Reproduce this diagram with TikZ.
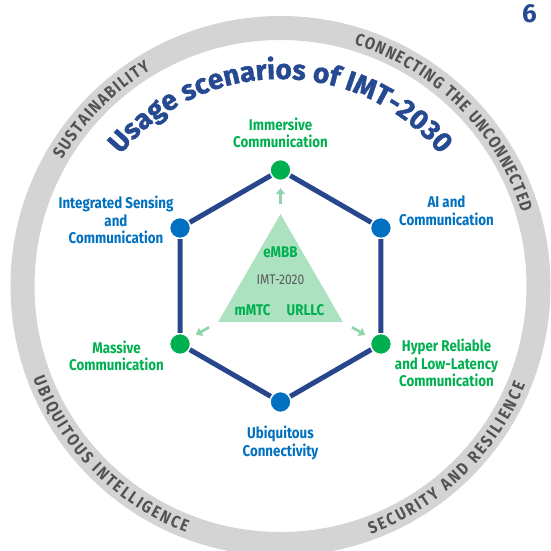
\documentclass[tikz,border=0pt]{standalone}
\usepackage{fontspec}
\setmainfont{Fira Sans}
\newfontfamily\condfont[FakeStretch=0.86]{Fira Sans}
\newfontfamily\titlefont[FakeBold=1.4]{Fira Sans}
\usetikzlibrary{arrows.meta,positioning,shapes.geometric,decorations.text}
\definecolor{hexnavy}   {RGB}{40, 70,140}
\definecolor{titleblue} {RGB}{37, 74,145}
\definecolor{nodeblue}  {RGB}{0 ,112,192}
\definecolor{nodegreen} {RGB}{0 ,176, 80}
\definecolor{mintfill}  {RGB}{172,226,192}
\definecolor{mintarrow} {RGB}{140,214,170}
\definecolor{ringgray}  {RGB}{212,212,212}
\definecolor{ringtext}  {RGB}{82 , 82, 82}
\definecolor{imtgray}   {RGB}{90 , 90, 90}

\begin{document}
\begin{tikzpicture}[
  x=1pt, y=1pt,
  bluept/.style={circle, fill=nodeblue, draw=white, line width=1.5pt, minimum size=21pt, inner sep=0pt},
  greenpt/.style={bluept, fill=nodegreen},
  bluelbl/.style={font=\condfont\bfseries\fontsize{15.5}{17.5}\selectfont, text=nodeblue, align=center},
  greenlbl/.style={bluelbl, text=nodegreen},
  hexline/.style={hexnavy, line width=5pt},
  outarrow/.style={-{Triangle[width=9pt,length=6pt]}, mintarrow, line width=2.6pt, shorten <=10pt, shorten >=7pt},
  ringlbl/.style={decorate, decoration={text along path, text align={fit to path},
    text={|\condfont\bfseries\fontsize{17}{17}\selectfont\color{ringtext}|#1}}}
]
  \useasboundingbox (-280.5,-265) rectangle (269.5,286);

  % Ring
  \draw[ringgray, line width=24pt] (0,0) circle[radius=258];
  \path[ringlbl={SUSTAINABILITY}] (150:252) arc[start angle=150, end angle=121, radius=252];
  \path[ringlbl={CONNECTING THE UNCONNECTED}] (73:252) arc[start angle=73, end angle=17, radius=252];
  \path[ringlbl={SECURITY AND RESILIENCE}] (-70:264) arc[start angle=-70, end angle=-22, radius=264];
  \path[ringlbl={UBIQUITOUS INTELLIGENCE}] (200.5:264) arc[start angle=200.5, end angle=249, radius=264];

  % Title
  \path[decorate, decoration={text along path, text align=center,
    text={|\titlefont\bfseries\fontsize{28}{28}\selectfont\color{titleblue}|Usage scenarios of IMT-2030}}]
    (175:207) arc[start angle=175, end angle=5, radius=207];
  \node[font=\bfseries\fontsize{26}{26}\selectfont, text=titleblue] (pagenum) at (249,272) {6};

  % Nodes
  \node[greenpt] (imm) at (90:116) {};
  \node[bluept] (ai) at (30:116) {};
  \node[greenpt] (hrllc) at (-30:116) {};
  \node[bluept] (ubiq) at (-90:116) {};
  \node[greenpt] (mass) at (-150:116) {};
  \node[bluept] (isac) at (150:116) {};

  \node[regular polygon, regular polygon sides=3, minimum size=144pt, fill=mintfill, inner sep=0pt] (tri) at (0,0) {};
  \node[greenlbl] (embb) at (0,34) {eMBB};
  \node[font=\condfont\fontsize{14}{14}\selectfont, text=imtgray] (imt) at (0,6) {IMT-2020};
  \node[greenlbl] (mmtc) at (-28,-24) {mMTC};
  \node[greenlbl] (urllc) at (25,-24) {URLLC};

  \node[greenlbl] (immlbl) at (0,153) {Immersive\\Communication};
  \node[bluelbl] (ailbl) at (166,75) {AI and\\Communication};
  \node[greenlbl] (hrllclbl) at (166,-77) {Hyper Reliable\\and Low-Latency\\Communication};
  \node[bluelbl] (ubiqlbl) at (0,-157) {Ubiquitous\\Connectivity};
  \node[greenlbl] (masslbl) at (-164,-70) {Massive\\Communication};
  \node[bluelbl] (isaclbl) at (-164.5,66) {Integrated Sensing\\and\\Communication};

  % Paths
  \draw[hexline] (imm) -- (ai) -- (hrllc) -- (ubiq) -- (mass) -- (isac) -- (imm);
  \draw[outarrow] (tri.corner 1) -- (imm);
  \draw[outarrow] (tri.corner 2) -- (mass);
  \draw[outarrow] (tri.corner 3) -- (hrllc);
\end{tikzpicture}
\end{document}
